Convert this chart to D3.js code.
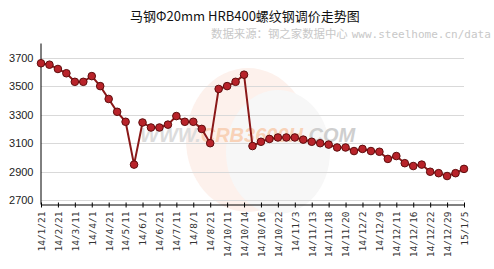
<!DOCTYPE html>
<html>
<head>
<meta charset="utf-8">
<script src="https://cdn.jsdelivr.net/npm/d3@7"></script>
<style>
  body { margin: 0; background: #fff; }
  svg { display: block; }
</style>
</head>
<body>
<svg id="chart" width="494" height="269"></svg>
<script>
// tick labels, one for every second point
var tickLabels = ["14/1/21", "14/2/21", "14/3/11", "14/4/1", "14/4/21", "14/5/11", "14/6/1",
  "14/6/21", "14/7/11", "14/8/1", "14/8/21", "14/10/11", "14/10/14", "14/10/16", "14/10/22",
  "14/11/3", "14/11/13", "14/11/18", "14/11/20", "14/12/2", "14/12/9", "14/12/11", "14/12/16",
  "14/12/22", "14/12/29", "15/1/5"];

// price, yuan/t
var prices = [3660, 3650, 3620, 3590, 3530, 3530, 3570, 3500, 3410, 3320,
  3250, 2950, 3245, 3210, 3210, 3230, 3290, 3250, 3250, 3200,
  3100, 3480, 3500, 3530, 3580, 3080, 3110, 3130, 3140, 3140,
  3140, 3125, 3110, 3100, 3090, 3070, 3070, 3045, 3060, 3045,
  3040, 2990, 3010, 2960, 2940, 2950, 2900, 2890, 2870, 2890,
  2920];

var yTicks = [2700, 2900, 3100, 3300, 3500, 3700];

var svg = d3.select("#chart");
var plotLeft = 41, plotRight = 464, plotTop = 43, plotBottom = 204;

var x = d3.scaleLinear()
    .domain([0, prices.length - 1])
    .range([plotLeft, plotRight]);
var y = d3.scaleLinear()
    .domain([2674, 3802])
    .range([plotBottom, plotTop]);

// title
svg.append("text")
    .attr("x", 245).attr("y", 21)
    .attr("text-anchor", "middle")
    .style("font-family", "'Noto Sans CJK SC', 'DejaVu Sans Mono', sans-serif")
    .style("font-size", "13px")
    .style("fill", "#111")
    .text("马钢Φ20mm HRB400螺纹钢调价走势图");

var sub = svg.append("text")
    .attr("x", 211).attr("y", 38)
    .style("font-size", "11.4px")
    .style("fill", "#c8c8c8");
sub.append("tspan")
    .style("font-family", "'Noto Sans CJK SC', sans-serif")
    .text("数据来源：钢之家数据中心");
sub.append("tspan")
    .attr("dx", 4)
    .style("font-family", "'DejaVu Sans Mono', monospace")
    .style("font-size", "11px")
    .text("www.steelhome.cn/data");

// watermark
var wm = svg.append("g");
wm.append("ellipse")
    .attr("cx", 248).attr("cy", 140).attr("rx", 62).attr("ry", 72)
    .style("fill", "#fdf1ec");
wm.append("ellipse")
    .attr("cx", 278).attr("cy", 152).attr("rx", 52).attr("ry", 62)
    .style("fill", "#f7f7f7");
var wt = wm.append("text")
    .attr("x", 140).attr("y", 142)
    .style("font-family", "Arial, 'Liberation Sans', sans-serif")
    .style("font-size", "20px")
    .style("font-weight", "bold")
    .style("font-style", "italic");
wt.append("tspan").style("fill", "#dcdcdc").text("WWW.");
wt.append("tspan").style("fill", "#f8d2b8").text("CRB3600H");
wt.append("tspan").style("fill", "#cfcfcf").text(".COM");

// grid
svg.append("g")
    .selectAll("line")
    .data(yTicks)
    .enter().append("line")
    .attr("x1", plotLeft).attr("x2", plotRight)
    .attr("y1", function(d) { return Math.round(y(d)) + 0.5; })
    .attr("y2", function(d) { return Math.round(y(d)) + 0.5; })
    .style("stroke", "#d9d9d9")
    .style("stroke-width", 1);

// y axis
var yAxis = svg.append("g")
    .attr("transform", "translate(" + (plotLeft - 0.5) + ",0)")
    .call(d3.axisLeft(y).tickValues(yTicks).tickFormat(d3.format("d"))
      .tickSize(0).tickPadding(7));
yAxis.select(".domain").style("stroke", "#000");
yAxis.selectAll("text")
    .style("font-family", "Arial, 'Liberation Sans', sans-serif")
    .style("font-size", "11px")
    .style("fill", "#222");

// x axis
var xAxis = svg.append("g")
    .attr("transform", "translate(0," + (plotBottom + 0.5) + ")")
    .call(d3.axisBottom(x)
      .tickValues(d3.range(0, prices.length, 2))
      .tickFormat(function(d) { return tickLabels[d / 2]; })
      .tickSizeInner(4).tickSizeOuter(0));
xAxis.select(".domain").style("stroke", "#000");
xAxis.selectAll(".tick line")
    .attr("y1", -2).attr("y2", 3)
    .style("stroke", "#000");
xAxis.selectAll("text")
    .attr("transform", "rotate(-90)")
    .attr("x", -7).attr("y", 0).attr("dy", "0.35em")
    .style("text-anchor", "end")
    .style("font-family", "'DejaVu Sans Mono', monospace")
    .style("font-size", "9.5px")
    .style("fill", "#333");

// line
var line = d3.line()
    .x(function(d, i) { return x(i); })
    .y(function(d) { return y(d); });

svg.append("path")
    .datum(prices)
    .attr("d", line)
    .style("fill", "none")
    .style("stroke", "#8a1818")
    .style("stroke-width", 2);

svg.selectAll(".dot")
    .data(prices)
    .enter().append("circle")
    .attr("class", "dot")
    .attr("cx", function(d, i) { return x(i); })
    .attr("cy", function(d) { return y(d); })
    .attr("r", 3.8)
    .style("fill", "#b8232a")
    .style("stroke", "#5e0d0d")
    .style("stroke-width", 1);
</script>
</body>
</html>
